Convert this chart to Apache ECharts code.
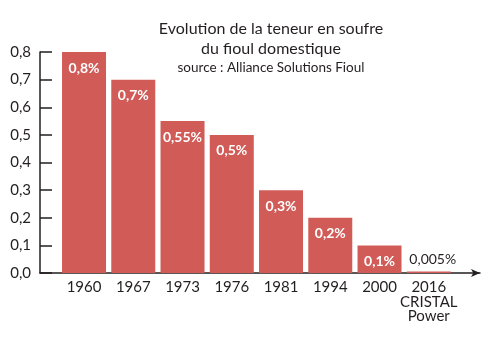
<!DOCTYPE html>
<html><head><meta charset="utf-8">
<script src="https://cdn.jsdelivr.net/npm/echarts@6/dist/echarts.min.js"></script>
<style>html,body{margin:0;padding:0;background:#fff}#c{width:500px;height:339px}</style>
</head><body><div id="c"></div>
<script>
const categories = ['1960', '1967', '1973', '1976', '1981', '1994', '2000', '2016\nCRISTAL\nPower'];
const values = [0.8, 0.7, 0.55, 0.5, 0.3, 0.2, 0.1, 0.005];
const valueLabels = ['0,8%', '0,7%', '0,55%', '0,5%', '0,3%', '0,2%', '0,1%', '0,005%'];
const titleText = 'Evolution de la teneur en soufre\ndu fioul domestique';
const sourceText = 'source : Alliance Solutions Fioul';

const FONT = 'Lato';
const INK = '#231f20';
const BAR = '#d15b57';

const chart = echarts.init(document.getElementById('c'), null, {renderer: 'canvas'});
const data = values.map((v, i) => {
  const small = v < 0.05;
  return {
    value: v,
    label: small ? {position: 'top', color: INK, fontWeight: 'normal', distance: 5, offset: [4, 0]} : {}
  };
});
chart.setOption({
  animation: false,
  textStyle: {fontFamily: FONT},
  title: [{
    text: titleText,
    subtext: sourceText,
    left: 266, top: 14, textAlign: 'center',
    itemGap: 2,
    textStyle: {fontFamily: FONT, fontSize: 16, fontWeight: 'normal', color: INK, lineHeight: 20},
    subtextStyle: {fontFamily: FONT, fontSize: 13.5, color: INK}
  }],
  grid: [
    {left: 40, right: 20, top: 52, bottom: 66},
    {left: 59.4, right: 46.6, top: 52, bottom: 66}
  ],
  xAxis: [
    {type: 'value', gridIndex: 0, min: 0, max: 1, show: true,
     axisLine: {show: true, symbol: ['none', 'arrow'], symbolSize: [6, 9], lineStyle: {color: INK, width: 1.5}},
     axisTick: {show: false}, axisLabel: {show: false}, splitLine: {show: false}},
    {type: 'category', gridIndex: 1, data: categories,
     axisLine: {show: false}, axisTick: {show: false},
     axisLabel: {color: INK, fontFamily: FONT, fontSize: 15, margin: 7, lineHeight: 14.5, interval: 0}}
  ],
  yAxis: [
    {type: 'value', gridIndex: 0, min: 0, max: 0.8, interval: 0.1,
     axisLine: {show: true, lineStyle: {color: INK, width: 1.5}},
     axisTick: {show: true, inside: true, length: 12, lineStyle: {color: INK, width: 1.5}},
     axisLabel: {color: INK, fontFamily: FONT, fontSize: 15, margin: 9,
                 formatter: v => v.toFixed(1).replace('.', ',')},
     splitLine: {show: false}},
    {type: 'value', gridIndex: 1, min: 0, max: 0.8, show: false}
  ],
  series: [{
    type: 'bar', xAxisIndex: 1, yAxisIndex: 1,
    data: data, barWidth: 44,
    itemStyle: {color: BAR},
    label: {show: true, position: 'insideTop', distance: 9,
            color: '#fff', fontWeight: 'bold', fontSize: 14, fontFamily: FONT,
            formatter: p => valueLabels[p.dataIndex]}
  }]
});
</script></body></html>
